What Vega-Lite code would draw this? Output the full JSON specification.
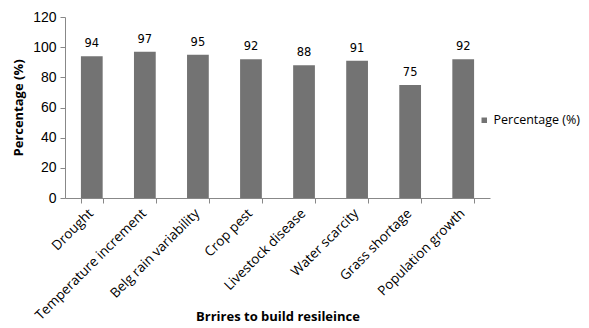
{
  "$schema": "https://vega.github.io/schema/vega-lite/v6.json",
  "width": 425,
  "height": 181,
  "autosize": {"type": "none"},
  "padding": {"left": 65, "top": 17, "right": 99, "bottom": 130},
  "background": "white",
  "data": {
    "values": [
      {"barrier": "Drought", "value": 94, "series": "Percentage (%)"},
      {"barrier": "Temperature increment", "value": 97, "series": "Percentage (%)"},
      {"barrier": "Belg rain variability", "value": 95, "series": "Percentage (%)"},
      {"barrier": "Crop pest", "value": 92, "series": "Percentage (%)"},
      {"barrier": "Livestock disease", "value": 88, "series": "Percentage (%)"},
      {"barrier": "Water scarcity", "value": 91, "series": "Percentage (%)"},
      {"barrier": "Grass shortage", "value": 75, "series": "Percentage (%)"},
      {"barrier": "Population growth", "value": 92, "series": "Percentage (%)"}
    ]
  },
  "config": {
    "view": {"stroke": null},
    "axis": {"domainColor": "#888", "tickColor": "#888", "labelColor": "#000", "titleColor": "#000", "grid": false}
  },
  "encoding": {
    "x": {
      "field": "barrier", "type": "nominal", "sort": null,
      "scale": {"paddingInner": 0.59, "paddingOuter": 0.3},
      "axis": {
        "title": "Brrires to build resileince",
        "titleFont": "Open Sans", "titleFontSize": 13, "titleFontWeight": "bold",
        "titleY": 112, "titleBaseline": "top",
        "labelAngle": -45, "labelFont": "Open Sans", "labelFontSize": 13.5,
        "labelPadding": 3, "labelOffset": -6, "tickBand": "extent", "tickSize": 5
      }
    },
    "y": {
      "field": "value", "type": "quantitative",
      "scale": {"domain": [0, 120]},
      "axis": {
        "title": "Percentage (%)", "values": [0, 20, 40, 60, 80, 100, 120],
        "titleFont": "Open Sans", "titleFontSize": 13, "titleFontWeight": "bold",
        "titlePadding": 7,
        "labelFont": "Liberation Sans", "labelFontSize": 14, "tickSize": 5, "labelPadding": 4
      }
    }
  },
  "layer": [
    {
      "mark": {"type": "bar"},
      "encoding": {
        "color": {
          "field": "series", "type": "nominal",
          "scale": {"range": ["#737373"]},
          "legend": {
            "title": null, "orient": "none", "legendX": 413, "legendY": 97,
            "padding": 0, "symbolOffset": 0, "labelOffset": 3,
            "symbolType": "square", "symbolSize": 30, "labelFont": "Open Sans",
            "labelFontSize": 12.5, "labelColor": "#000", "labelLimit": 200
          }
        }
      }
    },
    {
      "mark": {"type": "text", "baseline": "bottom", "dy": -7, "font": "DejaVu Sans", "fontSize": 11.5, "color": "#000"},
      "encoding": {"text": {"field": "value", "type": "quantitative"}}
    }
  ]
}
